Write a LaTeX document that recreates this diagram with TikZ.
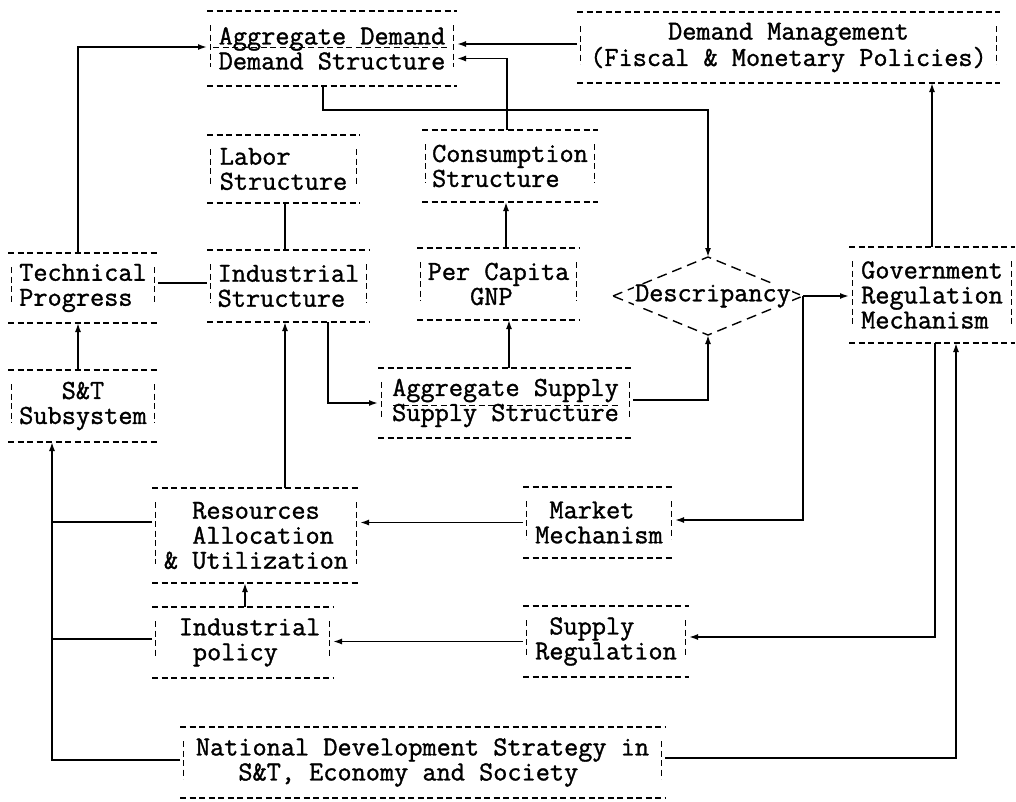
\documentclass[tikz,border=0pt]{standalone}
\usepackage{fontspec}
\usetikzlibrary{arrows.meta}
\newfontfamily\boxfont[FakeBold=1.2]{Latin Modern Mono}
\newcommand\pad[1]{\hphantom{#1}}
% dashed top/bottom rules and broken side bars of a box node
\newcommand\drawboxrules[1]{%
  \draw[frameline] (#1.north west) -- (#1.north east) (#1.south west) -- (#1.south east);
  \draw[frameline] ([xshift=3.5pt,yshift=-14pt]#1.north west) -- ([xshift=3.5pt,yshift=19pt]#1.south west)
                   ([xshift=-3.5pt,yshift=-14pt]#1.north east) -- ([xshift=-3.5pt,yshift=19pt]#1.south east);}
\begin{document}
\begin{tikzpicture}[x=1pt,y=-1pt,
  box/.style={inner sep=0pt, outer sep=0pt, align=left,
    font=\boxfont\fontsize{27.5}{25}\selectfont},
  frameline/.style={line width=1.4pt, dash pattern=on 6pt off 3.5pt},
  link/.style={line width=1.6pt},
  arr/.style={link, -{Latex[length=9pt,width=6pt]}},
]
\useasboundingbox (0,0) rectangle (1016,801);

% boxes
\node[box, minimum width=250pt, minimum height=75pt] (ad) at (332,48.5) {Aggregate Demand\\Demand Structure};
\node[box, align=center, minimum width=423pt, minimum height=71pt] (dm) at (788.5,47.5) {Demand Management\\(Fiscal \& Monetary Policies)};
\node[box, minimum width=153pt, minimum height=68pt] (labor) at (283.5,169) {Labor\pad{xxxx}\\Structure};
\node[box, minimum width=176pt, minimum height=72pt] (cons) at (510,166) {Consumption\\Structure};
\node[box, minimum width=150pt, minimum height=70pt] (tp) at (83,288) {Technical\\Progress};
\node[box, minimum width=163pt, minimum height=72pt] (ind) at (288.5,286) {Industrial\\Structure};
\node[box, minimum width=163pt, minimum height=72pt] (pcg) at (498.5,284) {Per Capita\\\pad{xxx}GNP};
\node[box, minimum width=166pt, minimum height=96pt] (gov) at (932,295) {Government\\Regulation\\Mechanism};
\node[box, minimum width=150pt, minimum height=72pt] (st) at (83,406) {\pad{xxx}S\&T\\Subsystem};
\node[box, minimum width=255pt, minimum height=70pt] (as) at (505.5,403) {Aggregate Supply\\Supply Structure};
\node[box, minimum width=208pt, minimum height=95pt] (res) at (256,535.5) {\pad{xx}Resources\\\pad{xx}Allocation\\\& Utilization};
\node[box, minimum width=152pt, minimum height=71pt] (mkt) at (599,522.5) {\pad{x}Market\\Mechanism};
\node[box, minimum width=181pt, minimum height=71pt] (ip) at (242.5,642.5) {\pad{x}Industrial\\\pad{xx}policy};
\node[box, minimum width=166pt, minimum height=71pt] (sr) at (606,641.5) {\pad{x}Supply\\Regulation};
\node[box, minimum width=485pt, minimum height=71pt] (nds) at (422.5,762.5) {National Development Strategy in\\\pad{xxx}S\&T, Economy and Society};

\foreach \b in {ad,dm,labor,cons,tp,ind,pcg,gov,st,as,res,mkt,ip,sr,nds} {\drawboxrules{\b}}

% dashed underlines of the aggregate boxes
\draw[frameline, line width=1pt] ([xshift=6pt,yshift=1.5pt]ad.west) -- ([xshift=-10pt,yshift=1.5pt]ad.east);
\draw[frameline, line width=1pt] ([xshift=15pt,yshift=-2pt]as.west) -- ([xshift=-14pt,yshift=-2pt]as.east);

% discrepancy diamond
\coordinate (dtop) at (708,257);
\coordinate (dbot) at (708,335);
\coordinate (dleft) at (613,296);
\coordinate (dright) at (803,296);
\draw[line width=1.4pt, dash pattern=on 10pt off 6pt] (dleft) -- (dtop) -- (dright) -- (dbot) -- cycle;
\node[box, fill=white, inner xsep=1pt] (disc) at (713,296) {Descripancy};

% trunk on the left
\coordinate (trunkx) at (52,0);

% connectors
\draw[arr] ([xshift=-5pt]tp.north) |- ([yshift=1.5pt]ad.west);
\draw[arr] ([yshift=3.5pt]dm.west) -- ([yshift=3.5pt]dm.west -| ad.east);
\draw[arr] ([xshift=-3pt]cons.north) |- ([yshift=-10pt]ad.east);
\draw[arr] ([xshift=-9pt]ad.south) -- ++(0,24) -| (dtop);
\draw[link] ([xshift=1.5pt]labor.south) -- ([xshift=1.5pt]labor.south |- ind.north);
\draw[link] ([yshift=5pt]tp.east) -- ([yshift=5pt]tp.east -| ind.west);
\draw[arr] ([xshift=-5pt]st.north) -- ([xshift=-5pt]tp.south);
\draw[arr] ([xshift=39.5pt]ind.south) |- (as.west);
\draw[arr] ([xshift=29pt]res.north) -- ([xshift=29pt]res.north |- ind.south);
\draw[arr] ([xshift=3.5pt]as.north) -- ([xshift=3.5pt]as.north |- pcg.south);
\draw[arr] ([xshift=7.5pt]pcg.north) -- ([xshift=7.5pt]pcg.north |- cons.south);
\draw[arr] ([yshift=3pt]as.east) -| (dbot);
\draw[arr] (dright) -- (dright -| gov.west);
\draw[arr] (dright) |- ([yshift=2.5pt]mkt.east);
\draw[arr] (mkt.west) -- (mkt.west -| res.east);
\draw[arr] (gov.north) -- (gov.north |- dm.south);
\draw[arr] ([xshift=3pt]gov.south) |- ([yshift=4.5pt]sr.east);
\draw[arr] (sr.west) -- (sr.west -| ip.east);
\draw[arr] ([xshift=2.5pt]ip.north) -- ([xshift=2.5pt]ip.north |- res.south);
\draw[arr] ([yshift=4.5pt]nds.east) -| ([xshift=24pt]gov.south);
\draw[arr] ([yshift=2.5pt]nds.west) -| ([xshift=-31pt]st.south);
\draw[link] ([yshift=13.5pt]res.west) -- ([yshift=13.5pt]res.west -| trunkx);
\draw[link] ([yshift=3.5pt]ip.west) -- ([yshift=3.5pt]ip.west -| trunkx);
\end{tikzpicture}
\end{document}
